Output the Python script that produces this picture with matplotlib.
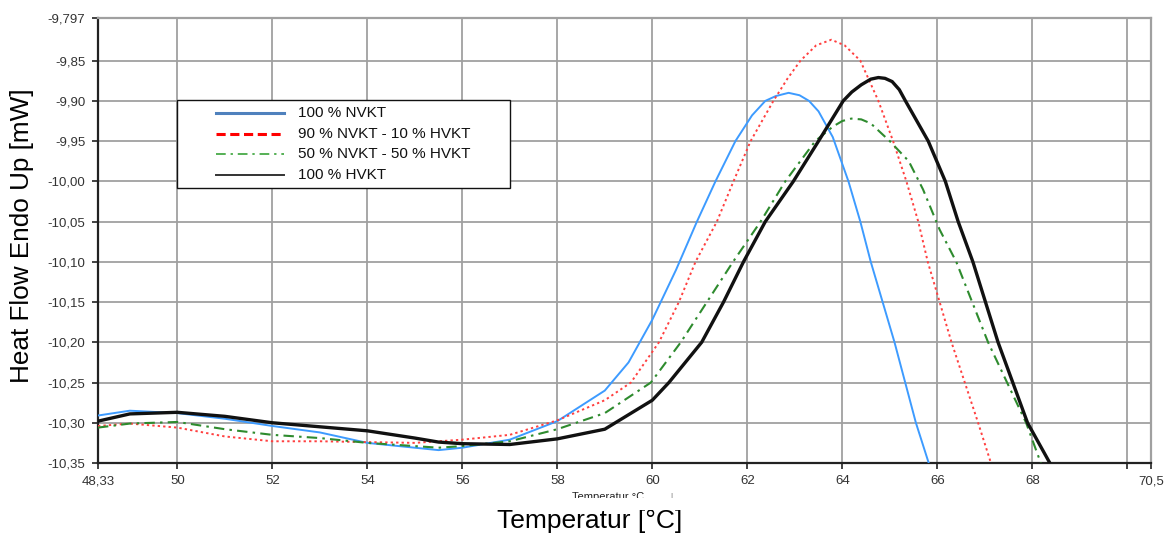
import matplotlib
matplotlib.use("Agg")
import matplotlib.pyplot as plt
from matplotlib.lines import Line2D
from matplotlib.patches import Rectangle

plt.rcParams['font.family'] = ['Liberation Sans', 'DejaVu Sans']

# DSC heat-flow curves (temperature in °C, heat flow in mW)
T_nvkt = [48.33, 49, 50, 51, 52, 53, 54, 55, 55.5, 56, 57, 58, 59, 59.5, 60, 60.5,
          60.94, 61.33, 61.75, 62.1, 62.38, 62.6, 62.87, 63.1, 63.3, 63.5, 63.8,
          64.13, 64.38, 64.6, 65.1, 65.55, 65.82]
HF_nvkt = [-10.291, -10.285, -10.288, -10.295, -10.304, -10.312, -10.325, -10.331,
           -10.334, -10.331, -10.321, -10.298, -10.260, -10.225, -10.172, -10.11,
           -10.05, -10.00, -9.95, -9.918, -9.90, -9.894, -9.890, -9.893, -9.900,
           -9.913, -9.945, -10.00, -10.05, -10.10, -10.20, -10.30, -10.35]

T_90_10 = [48.33, 49, 50, 51, 52, 53, 54, 55, 55.5, 56, 57, 58, 59, 59.55, 60.14,
           60.56, 60.91, 61.36, 61.71, 62.07, 62.55, 62.85, 63.12, 63.45, 63.77,
           64.05, 64.38, 64.76, 65.07, 65.35, 65.6, 65.8, 66.3, 66.86, 67.13]
HF_90_10 = [-10.304, -10.301, -10.306, -10.317, -10.323, -10.323, -10.324, -10.325,
            -10.323, -10.321, -10.315, -10.297, -10.272, -10.25, -10.20, -10.15,
            -10.10, -10.05, -10.00, -9.95, -9.90, -9.872, -9.85, -9.831, -9.824,
            -9.831, -9.85, -9.90, -9.95, -10.00, -10.05, -10.10, -10.20, -10.30,
            -10.35]

T_50_50 = [48.33, 49, 50, 51, 52, 53, 54, 55, 55.5, 56, 57, 58, 59, 59.97, 60.6,
           61.15, 61.7, 62.28, 62.8, 63.43, 63.8, 64.0, 64.19, 64.4, 64.6, 65.0,
           65.4, 65.7, 66.05, 66.4, 67.07, 67.87, 68.18]
HF_50_50 = [-10.306, -10.301, -10.299, -10.308, -10.315, -10.319, -10.325, -10.329,
            -10.331, -10.329, -10.323, -10.308, -10.288, -10.25, -10.20, -10.15,
            -10.10, -10.05, -10.00, -9.95, -9.932, -9.925, -9.922, -9.923, -9.928,
            -9.95, -9.975, -10.01, -10.06, -10.10, -10.20, -10.30, -10.35]

T_hvkt = [48.33, 49, 50, 51, 52, 53, 54, 55, 55.5, 56, 57, 58, 59, 60, 60.35, 61.04,
          61.5, 61.92, 62.38, 62.97, 63.5, 64.02, 64.2, 64.4, 64.6, 64.76, 64.9,
          65.05, 65.2, 65.33, 65.81, 66.17, 66.44, 66.75, 67.28, 67.9, 68.37]
HF_hvkt = [-10.298, -10.289, -10.287, -10.292, -10.300, -10.305, -10.310, -10.319,
           -10.324, -10.326, -10.327, -10.320, -10.308, -10.272, -10.25, -10.20,
           -10.15, -10.10, -10.05, -10.00, -9.95, -9.90, -9.889, -9.880, -9.873,
           -9.871, -9.872, -9.876, -9.886, -9.90, -9.95, -10.00, -10.05, -10.10,
           -10.20, -10.30, -10.35]

series_labels = ["100 % NVKT", "90 % NVKT - 10 % HVKT",
                 "50 % NVKT - 50 % HVKT", "100 % HVKT"]

x_ticks = [48.33, 50, 52, 54, 56, 58, 60, 62, 64, 66, 68, 70, 70.5]
x_ticklabels = ["48,33", "50", "52", "54", "56", "58", "60", "62", "64", "66",
                "68", "", "70,5"]
y_ticks = [-9.797, -9.85, -9.90, -9.95, -10.00, -10.05, -10.10, -10.15, -10.20,
           -10.25, -10.30, -10.35]
y_ticklabels = ["-9,797", "-9,85", "-9,90", "-9,95", "-10,00", "-10,05", "-10,10",
                "-10,15", "-10,20", "-10,25", "-10,30", "-10,35"]

W, H = 1166, 535
fig = plt.figure(figsize=(W / 100, H / 100), dpi=100)
ax = fig.add_axes([98 / W, 1 - 463 / H, (1151 - 98) / W, (463 - 18) / H])

ax.plot(T_nvkt, HF_nvkt, color="#3d9bff", lw=1.4, zorder=3)
ax.plot(T_90_10, HF_90_10, color="#ff4040", lw=1.4, ls=(0, (1.2, 1.6)), zorder=3)
ax.plot(T_50_50, HF_50_50, color="#2e8b2e", lw=1.5, ls=(0, (5, 2.5, 1.2, 2.5)), zorder=3)
ax.plot(T_hvkt, HF_hvkt, color="#111111", lw=2.4, zorder=4)

ax.set_xlim(48.33, 70.5)
ax.set_ylim(-10.35, -9.797)
ax.set_xticks(x_ticks)
ax.set_xticklabels(x_ticklabels)
ax.set_yticks(y_ticks)
ax.set_yticklabels(y_ticklabels)
ax.tick_params(axis="both", labelsize=9.5, labelcolor="#333333", color="#222222",
               length=4, width=1.2, direction="out", pad=5)

ax.grid(True, color="#a0a0a0", lw=1.3)
ax.set_axisbelow(True)
for side in ("left", "bottom"):
    ax.spines[side].set_color("#222222")
    ax.spines[side].set_linewidth(1.6)
for side in ("top", "right"):
    ax.spines[side].set_color("#a0a0a0")
    ax.spines[side].set_linewidth(1.6)

fig.text(22 / W, 1 - 236 / H, "Heat Flow Endo Up [mW]", fontsize=18.8,
         rotation=90, ha="center", va="center")
fig.text(590 / W, 1 - 521 / H, "Temperatur [°C]", fontsize=19,
         ha="center", va="center")

# small duplicate axis caption partially hidden under a blank strip
fig.text(608 / W, 1 - 497 / H, "Temperatur °C", fontsize=8,
         ha="center", va="center", color="#222222", zorder=3)
fig.text(671 / W, 1 - 496 / H, "|", fontsize=6,
         ha="center", va="center", color="#666666", zorder=3)
fig.patches.append(Rectangle((400 / W, 1 - 510 / H), 500 / W, 12 / H,
                             transform=fig.transFigure, facecolor="white",
                             edgecolor="none", zorder=4))

# legend panel
def ax_frac(px, py):
    return (px - 98) / 1053, (463 - py) / 445

legend_styles = [
    dict(color="#4f81bd", lw=2.2, ls="-"),
    dict(color="#ff0000", lw=2.2, ls=(0, (3, 1.5))),
    dict(color="#55b055", lw=1.4, ls=(0, (5, 2.5, 1.2, 2.5))),
    dict(color="#333333", lw=1.4, ls="-"),
]
x0, y0 = ax_frac(177, 188)
x1, y1 = ax_frac(510, 100)
ax.add_patch(Rectangle((x0, y0), x1 - x0, y1 - y0, transform=ax.transAxes,
                       facecolor="white", edgecolor="#111111", lw=1.0, zorder=6))
row_py = [113, 134, 154, 175]
hx0, _ = ax_frac(216, 0)
hx1, _ = ax_frac(284, 0)
tx, _ = ax_frac(298, 0)
for py, label, style in zip(row_py, series_labels, legend_styles):
    _, fy = ax_frac(0, py)
    ax.add_line(Line2D([hx0, hx1], [fy, fy], transform=ax.transAxes, zorder=7,
                       **style))
    ax.text(tx, fy, label, transform=ax.transAxes, fontsize=11, va="center",
            ha="left", color="#111111", zorder=7)

fig.savefig("out.png", dpi=100, facecolor="white")
